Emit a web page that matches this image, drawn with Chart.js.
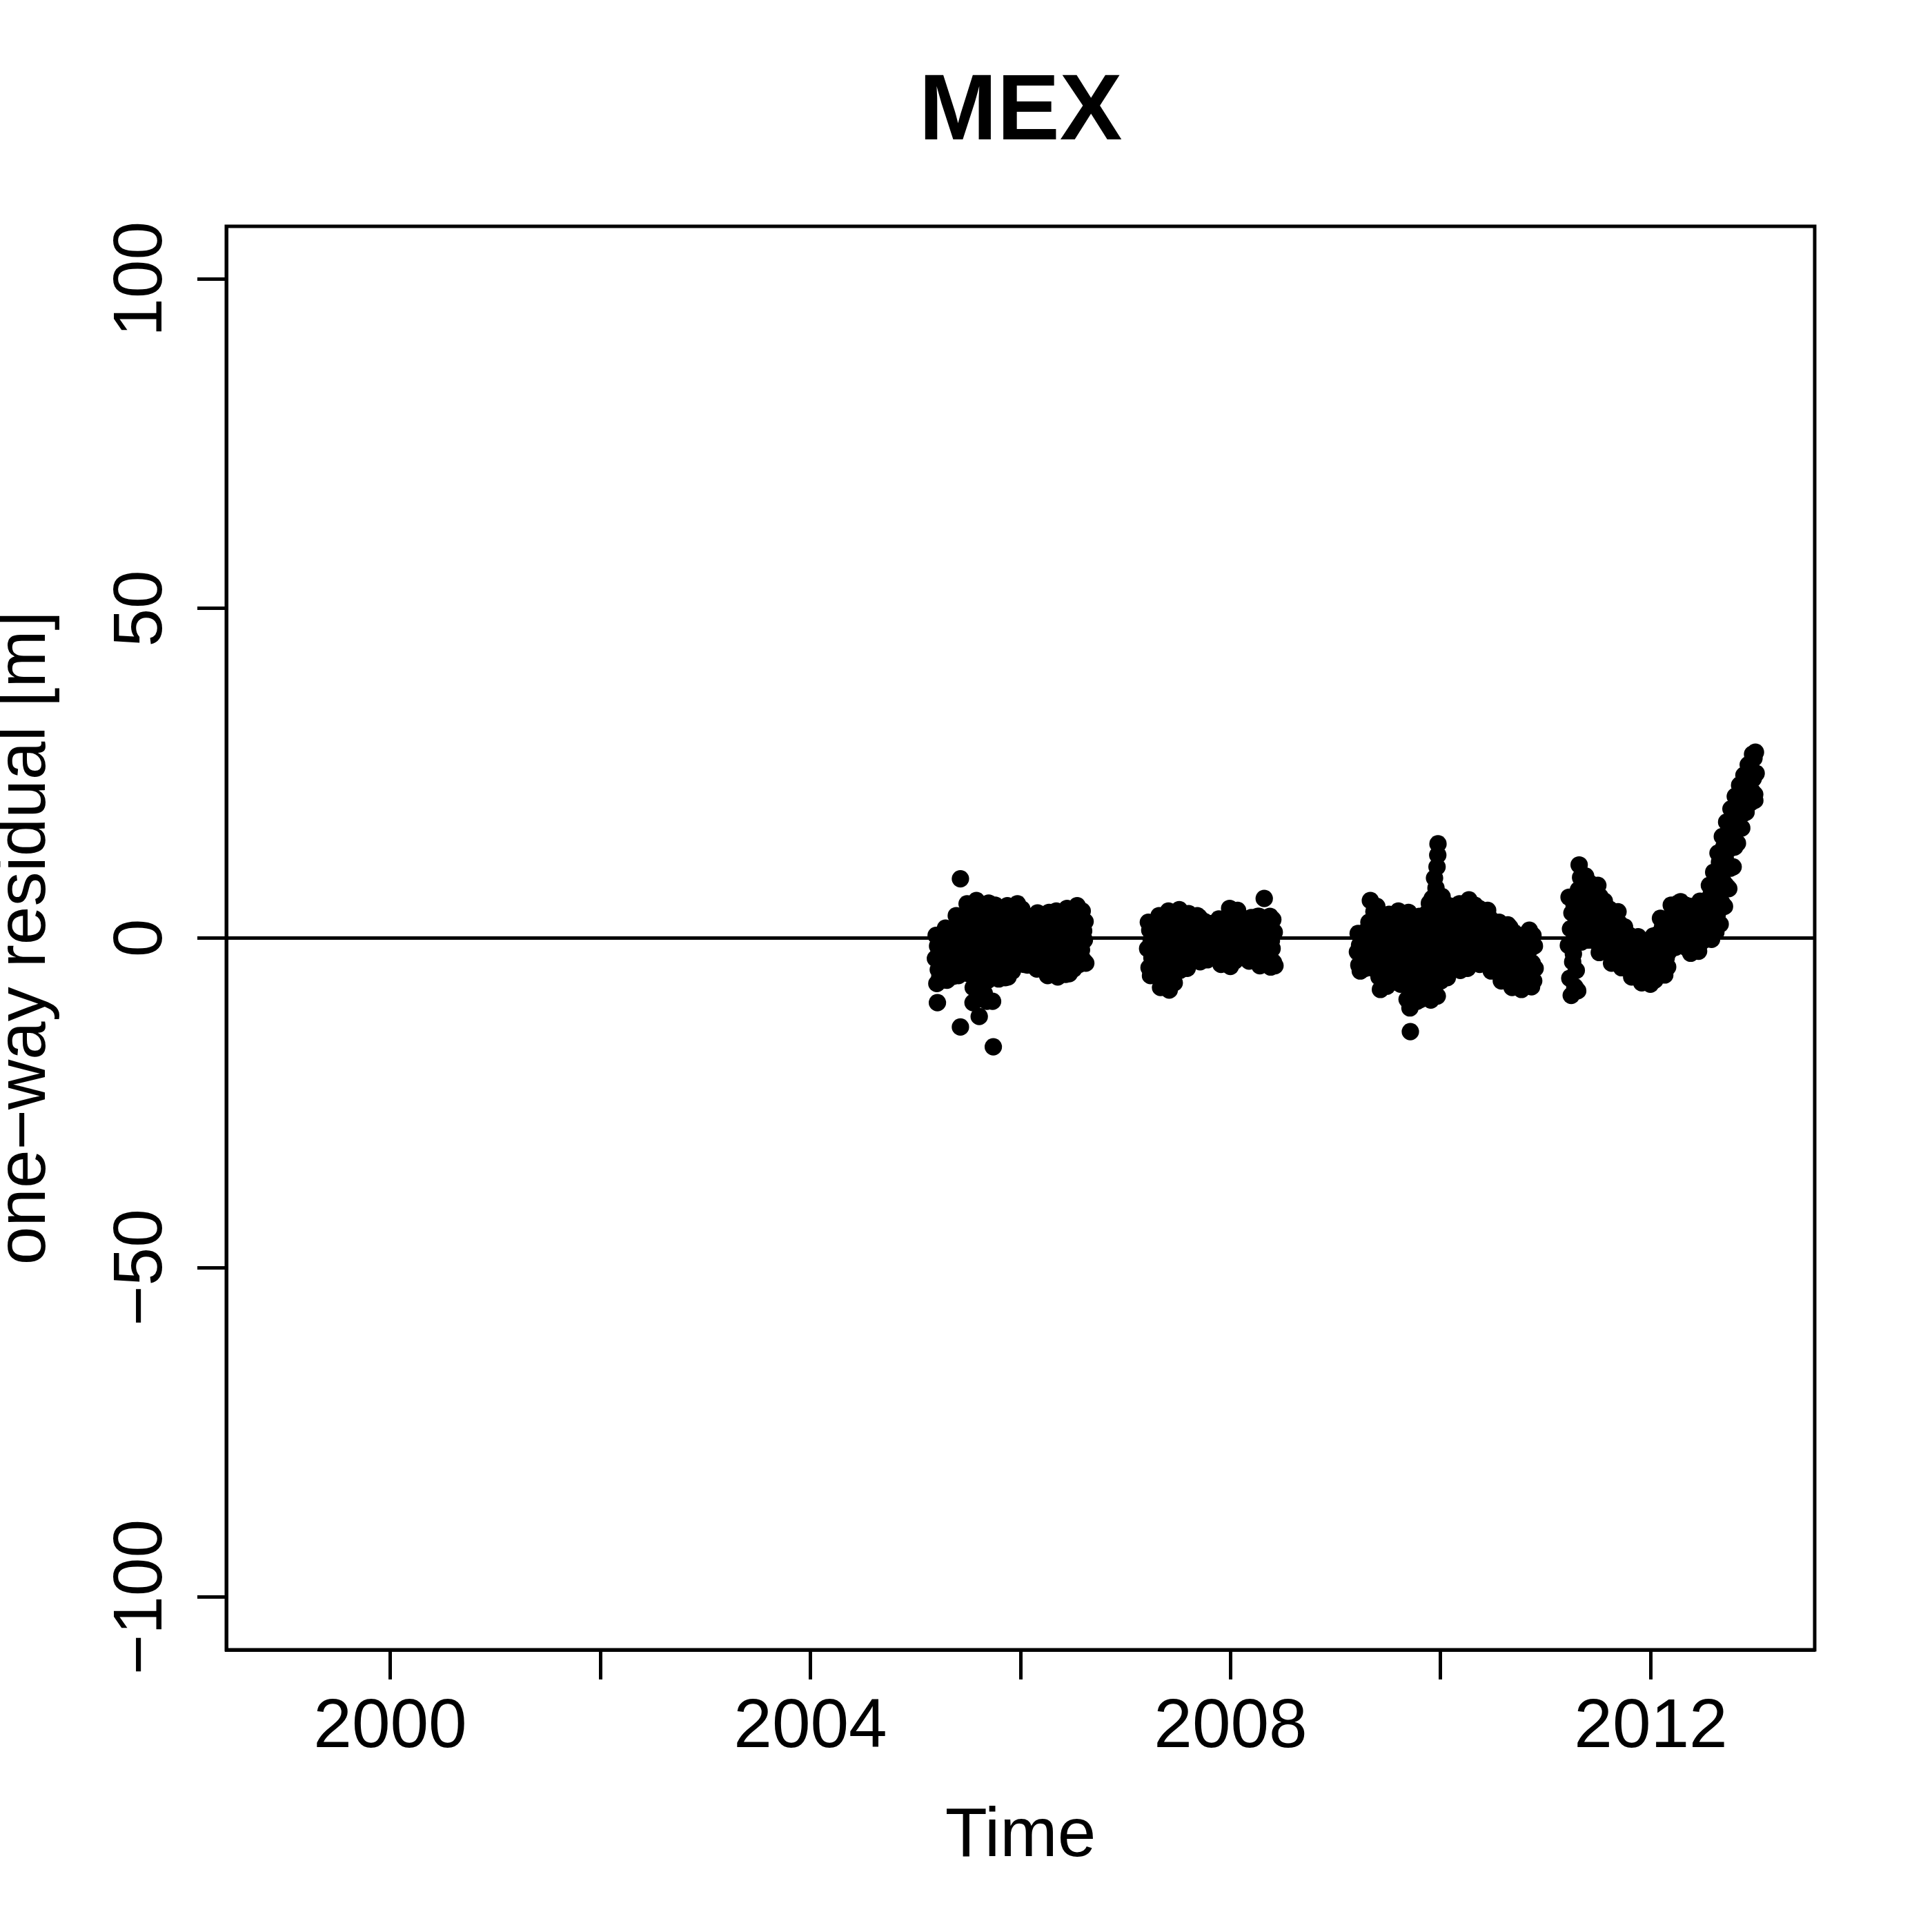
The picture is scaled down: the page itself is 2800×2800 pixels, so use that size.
<!DOCTYPE html>
<html>
<head>
<meta charset="utf-8">
<title>MEX</title>
<script src="https://cdn.jsdelivr.net/npm/chart.js@4.4.1/dist/chart.umd.min.js"></script>
<style>
  html, body { margin: 0; padding: 0; background: #fff; }
  #wrap { width: 2800px; height: 2800px; }
</style>
</head>
<body>
<div id="wrap"><canvas id="chart" width="2800" height="2800"></canvas></div>
<script>
// --- values ---
const stationName = "MEX";
const samplesPerYear = 146; // one sample every 2.5 days

// segment 1 : 2005.2 - 2006.6
const seg1Start = 2005.19;
const seg1Values = [
  -3.1, 0.4, -6.9, -1.2, -4.8, -2.2, -5.9, -4.0, -0.4, -6.4, -1.7, -5.3, -2.7, 0.0,
  1.5, -4.0, -6.4, -0.3, -2.6, -5.3, 0.6, -1.4, 1.0, -4.6, 0.1, -5.8, -2.0, -3.3,
  -1.3, 3.4, -4.4, 0.3, -5.7, 2.1, -2.6, 1.2, -3.5, 2.7, -5.0, -0.5, -1.9, -5.2,
  1.8, -3.7, 5.2, -0.2, -5.4, 3.6, -1.9, -1.0, 4.4, -4.5, 0.8, 2.7, -2.8, 4.8,
  -2.0, 5.7, -6.1, 1.8, -4.1, 3.9, 0.1, 2.8, -3.0, 4.8, -5.1, -1.0, 1.0, -5.8,
  3.1, -4.6, 1.4, -6.4, 5.3, -0.7, -2.5, -1.6, 4.2, -5.5, 0.3, -3.5, 2.2, 5.0,
  -0.9, 4.4, -4.3, 2.8, -6.2, 0.8, -2.7, 1.8, -3.5, 3.6, -5.2, 0.0, -1.8, -6.0,
  1.1, -2.3, 4.9, -5.9, 3.1, -4.2, -0.5, -3.2, 2.1, -5.0, 4.0, -1.4, 0.3, 4.6,
  2.5, -3.4, 5.2, 0.8, -2.1, 3.7, -0.6, 0.1, 4.4, -2.7, 1.6, -4.0, 3.1, -1.3,
  -1.7, 3.4, -4.1, 0.9, 2.3, -3.0, -0.4, 1.6, -2.3, 2.8, -3.5, 0.2, -1.0, 3.0,
  0.9, -4.7, 3.8, -1.9, 2.5, -3.3, -0.5, -1.2, 3.1, -4.0, 0.2, -2.6, 1.7, -4.5,
  -2.6, 2.3, -5.7, 0.8, 3.9, -4.1, -0.9, 0.0, -3.3, 3.1, -4.9, 1.5, -1.7, 3.6,
  4.1, -0.7, -5.9, 2.6, -2.4, 0.8, -4.3, -1.6, 3.4, -5.1, 0.0, -3.4, 1.7, -5.5,
  -2.2, 4.5, -3.9, 1.1, -5.4, 3.0, -0.4, 2.0, -3.0, 3.8, -4.7, 0.3, -1.3, 4.2,
  0.5, 4.9, -2.6, 3.3, -4.0, 1.8, -1.0, -1.8, 4.1, -3.3, 1.1, -0.3, 2.5, -3.8
];

// segment 2 : 2007.2 - 2008.4
const seg2Start = 2007.21;
const seg2Values = [
  -1.6, 2.4, -4.5, 1.2, -5.7, -0.3, -3.0, -2.3, 1.8, -5.1, 0.5, -3.8, -1.0, 2.2,
  1.6, -5.8, 3.4, -2.0, -7.5, -0.1, -3.9, 0.8, -4.8, 2.5, -6.6, -1.0, -3.0, -7.2,
  -3.7, 4.1, -7.9, 0.3, 2.2, -5.8, -1.8, -2.8, 3.2, -6.8, 1.2, -4.8, -0.8, 3.8,
  2.9, -1.9, 4.3, -4.9, 1.2, -3.5, -0.3, 0.4, -2.7, 3.6, -4.2, 2.0, -1.1, -4.6,
  0.4, 3.7, -1.8, 2.6, -3.0, 1.5, -0.8, -0.2, 3.1, -2.4, 0.9, 2.0, -1.3, 3.4,
  -2.4, 1.0, 3.1, -3.6, -0.2, 2.0, -1.3, 0.4, -1.9, 2.5, -3.0, 1.5, -0.8, -3.3,
  1.4, -2.7, 0.6, 2.2, -1.1, -0.3, -2.0, -0.7, 1.8, -2.4, 0.1, 1.0, -1.5, 2.4,
  -0.5, 2.9, -2.8, 0.7, -4.0, 1.9, -1.6, 1.3, -2.2, 2.4, -3.4, 0.1, -1.0, -3.7,
  3.0, -1.3, 4.5, -4.3, 0.2, -2.7, 1.6, -0.5, 3.8, -3.5, 0.9, -2.0, 2.3, 4.2,
  -0.7, 3.2, -2.6, 1.3, 2.3, -1.7, 0.3, 0.8, -1.2, 2.8, -2.2, -0.2, 1.8, -2.9,
  0.9, -3.5, 2.1, -1.4, 3.1, -2.5, -0.2, -0.8, 2.6, -3.0, 0.4, -2.0, 1.5, 3.3,
  -1.7, 3.3, -4.2, 0.8, -3.0, 2.0, -0.5, 1.4, -2.4, 2.7, -3.6, 0.2, -1.1, -4.0,
  2.2, -2.9, 3.3, -4.4, -0.4, -1.6, 2.8, -3.7, 0.9, -4.2
];

// segment 3 : 2009.2 - 2010.9
const seg3Start = 2009.207;
const seg3Values = [
  -2.1, 0.7, -4.1, -1.1, -5.0, -0.2, -3.0, -1.6, 0.2, -3.6, -0.7, -4.6, -2.6, 0.5,
  1.3, -3.4, 2.4, -1.0, 5.7, -2.2, -4.5, 0.2, -2.8, 4.0, -4.0, 1.8, -1.6, 4.8,
  -0.4, 3.3, -5.9, 1.5, -7.8, -2.2, -4.1, -1.3, 2.4, -5.0, 0.5, -6.8, -3.1, -7.3,
  2.2, -3.7, 3.6, -0.8, -5.2, 0.7, -2.3, -1.5, 2.9, -4.4, -0.1, -3.0, 1.4, 3.3,
  -1.4, 4.1, -5.1, 2.4, -7.0, 0.5, -3.3, 1.4, -4.2, 3.2, -6.0, -0.4, -2.3, -6.6,
  -2.1, 3.9, -6.3, 0.0, -8.5, 2.0, -4.2, -3.1, 3.0, -7.4, 1.0, -5.2, -1.0, -9.6,
  1.1, -7.2, 3.3, -3.1, -9.3, -1.0, -5.1, 0.0, -6.2, 2.2, -4.1, -8.2, -2.0, 3.8,
  0.6, -6.8, 5.3, -1.8, -9.4, 3.0, -4.2, -3.0, 4.2, -8.1, 1.8, -5.5, -0.6, -8.8,
  2.0, -4.4, 6.2, -0.1, -6.5, 4.1, -2.2, 1.0, -3.3, 5.2, -5.5, 3.0, -1.2, -6.0,
  -1.4, 4.9, -3.0, 1.8, -4.6, 3.4, 0.2, -0.6, 4.2, -3.8, 1.0, -2.2, 2.6, 5.0,
  3.6, -1.5, 5.2, -4.9, 0.2, -3.2, 1.9, 1.0, -2.4, 4.4, -4.0, 2.8, -0.6, -4.6,
  1.2, 5.8, -1.9, 4.3, -3.4, 2.7, -0.3, 2.0, -1.1, 5.0, -2.6, 3.5, 0.4, -3.1,
  -1.2, 4.5, -4.0, 1.7, 3.1, -2.6, 0.2, -0.5, 3.8, -3.3, 1.0, -1.9, 2.4, 4.2,
  0.3, -3.7, 3.0, -1.0, -5.0, 1.7, -2.3, 1.0, -3.0, 2.4, -4.4, -0.4, -1.6, -4.8,
  -2.0, 2.4, -5.0, 0.9, -6.5, -0.6, -3.5, -1.3, 1.6, -4.2, 0.1, -5.8, -2.8, 2.0,
  0.1, -4.4, 1.6, -6.0, -1.5, -7.5, -3.0, -2.2, 0.8, -5.2, -0.7, -6.8, -3.7, -7.2,
  -3.7, 0.4, -6.4, -0.9, -7.8, -2.3, -5.0, -3.0, -0.2, -5.7, -1.6, -7.1, -4.4, 0.6,
  -2.0, 1.2, -5.6, -0.4, -7.4, -3.8, 0.4, -6.5, -1.2, -4.6
];

// segment 4 : 2011.2 - 2013.0
const seg4Start = 2011.215;
const seg4Values = [
  -1.1, 6.2, -6.1, 1.4, -8.7, 3.8, -3.6, -2.4, 5.0, -7.4, 0.2, -4.9, 2.6, -8.0,
  7.3, 11.1, 1.3, 9.2, -0.6, 5.3, 3.3, 4.3, 8.2, 0.4, 9.4, 2.3, 6.3, -0.3,
  4.1, 8.4, 1.2, 7.0, -0.3, 5.6, 2.6, 3.4, 7.7, 0.4, 6.3, 1.9, 4.8, 8.0,
  2.0, -2.2, 6.3, 0.6, 5.0, -0.9, 3.5, 1.3, 5.6, -1.6, 2.8, -0.2, 4.2, -2.0,
  0.3, 4.4, -2.4, 1.7, -3.8, 3.1, -1.0, -0.4, 3.8, -3.1, 1.0, -1.7, 2.4, 4.0,
  -1.1, 2.2, -3.4, 0.0, -4.5, 1.2, -2.2, -1.6, 1.7, -4.0, 0.6, -2.8, -0.6, -4.2,
  -2.8, 0.4, -4.8, -1.7, -5.9, -0.6, -3.8, -2.2, -0.1, -4.3, -1.2, -5.4, -3.3, 0.2,
  -3.8, -1.5, -5.8, -2.9, -6.8, -2.2, -4.8, -3.4, -2.0, -5.3, -2.6, -6.3, -4.3, -6.6,
  -5.8, -2.1, -7.0, -3.4, -0.9, -4.6, 0.3, -2.8, -6.4, -0.3, -4.0, -1.5, -5.2, 0.6,
  0.3, -3.7, 3.0, -1.0, -5.0, 1.7, -2.3, -1.6, -5.6, 2.4, -3.0, 1.0, -4.4, -0.4,
  -2.0, 2.7, 0.3, 5.0, -0.8, 3.8, 1.5, 0.9, 4.4, -1.4, 3.2, -0.2, 2.1, 5.3,
  4.4, -0.1, 5.5, 1.0, 3.3, -1.2, 2.2, 2.8, -0.6, 5.0, 0.4, 3.8, -1.6, 1.6,
  1.3, 4.8, -2.3, 2.5, -1.1, 3.7, 0.1, 0.7, 4.2, -1.7, 3.1, -0.5, 1.9, -2.0,
  2.4, 5.6, -0.7, 3.5, 0.4, 4.5, 1.4, 1.9, 5.0, -0.2, 4.0, 0.9, 3.0, 5.8,
  // climb towards 2013
  8.0, 2.8, 6.5, -0.2, 5.4, 2.0, 10.0,
  4.5, 8.9, 0.9, 7.6, 3.6, 12.9, 6.4,
  11.5, 2.1, 9.9, 5.4, 15.4, 8.6, 13.8,
  4.8, 12.2, 8.0, 17.6, 11.1, 16.0, 7.5,
  14.5, 10.6, 19.6, 13.7, 18.2, 10.8, 17.1,
  13.8, 21.5, 16.6, 20.5, 14.4, 19.5, 16.7,
  23.2, 18.9, 22.2, 16.7, 21.3, 18.9, 24.7,
  20.9, 23.8, 19.1, 23.1, 20.8, 26.3, 22.6,
  25.6, 20.5, 24.8, 22.3, 27.9, 24.2, 27.3,
  21.8, 28.2, 25.0
];

// single points that stick out of the bands
const outlierTimes = [
  2005.428, 2005.209, 2005.428, 2005.741, 2005.607, 2005.548, 2005.734,
  2005.55, 2005.61, 2005.68, 2005.655,
  2008.32,
  2009.711, 2009.707, 2009.68,
  2009.974, 2009.972, 2009.965, 2009.941, 2009.919, 2009.955, 2010.013,
  2012.99
];
const outlierValues = [
  9.0, -9.8, -13.5, -16.5, -11.9, -9.8, -9.6,
  -7.5, -8.0, -9.6, -8.4,
  6.0,
  -14.2, -10.6, -9.3,
  14.3, 12.6, 10.8, 9.1, 6.0, 7.6, 6.3,
  20.9
];

const xTickYears = [2000, 2002, 2004, 2006, 2008, 2010, 2012];
const xLabelYears = [2000, 2004, 2008, 2012];
const yTickValues = [-100, -50, 0, 50, 100];
const xRange = [1998.44, 2013.56];
const yRange = [-108, 108];
const zeroLineValue = 0;

const FONT = "'Liberation Sans', Arial, Helvetica, sans-serif";
const MINUS = "\u2212";

// --- points ---
const segments = [
  { start: seg1Start, values: seg1Values },
  { start: seg2Start, values: seg2Values },
  { start: seg3Start, values: seg3Values },
  { start: seg4Start, values: seg4Values },
];
const points = [];
segments.forEach((seg) => {
  seg.values.forEach((v, i) => points.push({ x: seg.start + i / samplesPerYear, y: v }));
});
outlierTimes.forEach((t, i) => points.push({ x: t, y: outlierValues[i] }));

const fmt = (v) => (v < 0 ? MINUS + Math.abs(v) : String(v));

// --- zero line, frame and rotated y labels (R style) ---
const framePlugin = {
  id: "frame",
  beforeDatasetsDraw(chart) {
    const { ctx, chartArea, scales } = chart;
    const y0 = scales.y.getPixelForValue(zeroLineValue);
    ctx.save();
    ctx.strokeStyle = "#000";
    ctx.lineWidth = 5;
    ctx.beginPath();
    ctx.moveTo(chartArea.left, y0);
    ctx.lineTo(chartArea.right, y0);
    ctx.stroke();
    ctx.restore();
  },
  afterDraw(chart) {
    const { ctx, chartArea, scales } = chart;
    ctx.save();
    ctx.strokeStyle = "#000";
    ctx.lineWidth = 5;
    ctx.strokeRect(chartArea.left, chartArea.top,
      chartArea.right - chartArea.left, chartArea.bottom - chartArea.top);

    ctx.fillStyle = "#000";
    ctx.font = "100px " + FONT;
    ctx.textAlign = "center";
    ctx.textBaseline = "alphabetic";
    yTickValues.forEach((v) => {
      const py = scales.y.getPixelForValue(v);
      ctx.save();
      ctx.translate(234, py);
      ctx.rotate(-Math.PI / 2);
      ctx.fillText(fmt(v), 0, 0);
      ctx.restore();
    });
    ctx.restore();
  },
};

const ctx = document.getElementById("chart").getContext("2d");
new Chart(ctx, {
  type: "scatter",
  data: {
    datasets: [{
      data: points,
      backgroundColor: "#000",
      borderWidth: 0,
      pointRadius: 12.6,
      pointHoverRadius: 12.6,
    }],
  },
  options: {
    responsive: false,
    animation: false,
    devicePixelRatio: 1,
    events: [],
    layout: { padding: { left: 0, right: 170, top: 0, bottom: 0 } },
    plugins: {
      legend: { display: false },
      tooltip: { enabled: false },
      title: {
        display: true,
        text: stationName,
        fullSize: false,
        color: "#000",
        font: { family: FONT, size: 136, weight: "bold", lineHeight: 1 },
        padding: { top: 96.6, bottom: 95.4 },
      },
    },
    scales: {
      x: {
        type: "linear",
        min: xRange[0],
        max: xRange[1],
        afterBuildTicks: (s) => { s.ticks = xTickYears.map((value) => ({ value })); },
        afterFit: (s) => { s.height = 409; },
        grid: { drawOnChartArea: false, drawTicks: true, tickLength: 43, tickWidth: 5, color: "#000", tickColor: "#000" },
        border: { display: true, color: "#000", width: 5 },
        ticks: {
          color: "#000",
          font: { family: FONT, size: 100, lineHeight: 1 },
          padding: 20,
          autoSkip: false,
          maxRotation: 0,
          minRotation: 0,
          callback: (v) => (xLabelYears.includes(v) ? String(v) : ""),
        },
        title: {
          display: true,
          text: "Time",
          color: "#000",
          font: { family: FONT, size: 100, lineHeight: 1 },
          padding: { top: 0, bottom: 88 },
        },
      },
      y: {
        type: "linear",
        min: yRange[0],
        max: yRange[1],
        afterBuildTicks: (s) => { s.ticks = yTickValues.map((value) => ({ value })); },
        afterFit: (s) => { s.width = 328; },
        grid: { drawOnChartArea: false, drawTicks: true, tickLength: 42, tickWidth: 5, color: "#000", tickColor: "#000" },
        border: { display: true, color: "#000", width: 5 },
        ticks: { display: false },
        title: {
          display: true,
          text: "one" + MINUS + "way residual [m]",
          color: "#000",
          font: { family: FONT, size: 100, lineHeight: 0.75 },
          padding: 0,
        },
      },
    },
  },
  plugins: [framePlugin],
});
</script>
</body>
</html>
